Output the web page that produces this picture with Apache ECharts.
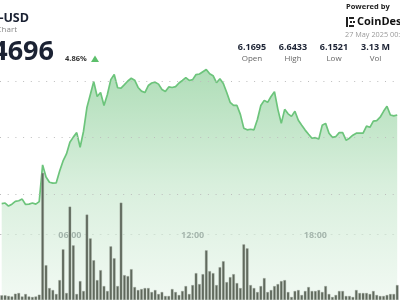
<!DOCTYPE html>
<html><head><meta charset="utf-8">
<script src="https://cdn.jsdelivr.net/npm/echarts@6/dist/echarts.min.js"></script>
<style>html,body{margin:0;padding:0;background:#fff;overflow:hidden}#c{width:400px;height:300px}</style>
</head><body><div id="c"></div>
<script>
// 10-minute buckets, first visible bucket 02:40
const startMinutes = 160;
const bucketCount = 117;
const times = [];
for (let k = 0; k < bucketCount; k++) {
  const m = startMinutes + k * 10;
  times.push(String(Math.floor(m / 60) % 24).padStart(2, '0') + ':' + String(m % 60).padStart(2, '0'));
}
const prices = [6.165,6.167,6.156,6.163,6.173,6.175,6.181,6.162,6.163,6.167,6.163,6.172,
6.303,6.260,6.241,6.238,6.239,6.281,6.317,6.342,6.384,6.402,6.418,6.366,6.423,6.508,6.554,6.600,6.547,6.561,
6.515,6.554,6.607,6.625,6.578,6.577,6.589,6.602,6.612,6.605,6.579,6.566,6.561,6.586,6.595,6.598,6.591,6.572,6.565,6.581,
6.579,6.582,6.595,6.604,6.614,6.604,6.607,6.625,6.627,6.635,6.643,6.628,6.621,6.596,6.610,6.593,6.561,6.526,6.515,6.515,
6.483,6.434,6.428,6.430,6.428,6.465,6.515,6.533,6.526,6.547,6.564,6.501,6.451,6.501,6.485,6.476,6.494,6.462,6.444,6.427,
6.412,6.398,6.400,6.395,6.444,6.451,6.416,6.401,6.404,6.418,6.418,6.391,6.398,6.409,6.416,6.416,6.416,6.441,6.437,6.459,
6.461,6.473,6.494,6.512,6.481,6.478,6.481];
const volumesK = [4.7,4.7,4,3.5,6.3,7,3.5,6,3.5,3,3.5,5.3,
128,35,12,10,6,20,51,7,94,55,6,19,9,86,62,40,20,30,14,9,54,42,14,98,25,24,31,13,10,11,12,12,8,10,6,8,4,4,11,8,5,9,14,6,15,27,16,
26,50,29,27,15,33,39,18,23,26,17,12,56,52,15,12,8,14,22,8,10,14,16,19,20,8,3,9,10,5,9,13,9,9,10,8,14,6,3,5,9,9,4,4,3,10,7,7,7,6,9,5,4,4,5,6,6,15];
const tickLabels = ['06:00','12:00','18:00'];
const priceGridValues = [6.2, 6.4, 6.6];
const stats = [['6.1695','Open'],['6.6433','High'],['6.1521','Low'],['3.13 M','Vol']];
const headline = { pair: 'UNI-USD', sub: 'Uniswap Chart', price: '6.4696', change: '4.86%', date: '27 May 2025 00:00' };

const chart = echarts.init(document.getElementById('c'), null, { renderer: 'canvas' });
const FONT = '"Open Sans", "Noto Sans", sans-serif';
const dotted = { type: [1, 6.7], color: '#bdbdbd', width: 1 };
const statX = [252, 293, 334, 375.5];

const graphics = [
  { type: 'text', x: 29, y: 18, style: { text: headline.pair, align: 'right', verticalAlign: 'middle', font: 'bold 12.5px ' + FONT, fill: '#1b2233' } },
  { type: 'text', x: 17, y: 29.5, style: { text: headline.sub, align: 'right', verticalAlign: 'middle', font: '8px ' + FONT, fill: '#888' } },
  { type: 'text', x: 54, y: 52, style: { text: headline.price, align: 'right', verticalAlign: 'middle', font: 'bold 27px ' + FONT, fill: '#1b2233' } },
  { type: 'text', x: 65, y: 59, style: { text: headline.change, align: 'left', verticalAlign: 'middle', font: 'bold 7.5px ' + FONT, fill: '#333' } },
  { type: 'polygon', shape: { points: [[91, 62], [99, 62], [95, 55.5]] }, style: { fill: '#5cbf6b' } },
  { type: 'text', x: 346, y: 7, style: { text: 'Powered by', align: 'left', verticalAlign: 'middle', font: 'bold 7.5px ' + FONT, fill: '#222' } },
  { type: 'rect', shape: { x: 346, y: 17, width: 2, height: 10 }, style: { fill: '#222' } },
  { type: 'rect', shape: { x: 349, y: 17, width: 5, height: 2 }, style: { fill: '#222' } },
  { type: 'rect', shape: { x: 349, y: 25, width: 5, height: 2 }, style: { fill: '#222' } },
  { type: 'rect', shape: { x: 350, y: 21, width: 2, height: 2 }, style: { fill: '#222' } },
  { type: 'rect', shape: { x: 353, y: 21, width: 2, height: 2 }, style: { fill: '#222' } },
  { type: 'text', x: 357, y: 22, style: { text: 'CoinDesk', align: 'left', verticalAlign: 'middle', font: 'bold 11px ' + FONT, fill: '#111' } },
  { type: 'text', x: 345, y: 35, style: { text: headline.date, align: 'left', verticalAlign: 'middle', font: '7.3px ' + FONT, fill: '#9a9a9a' } }
];
stats.forEach((s, k) => {
  graphics.push({ type: 'text', x: statX[k], y: 47.5, style: { text: s[0], align: 'center', verticalAlign: 'middle', font: 'bold 9px ' + FONT, fill: '#1b2233' } });
  graphics.push({ type: 'text', x: statX[k], y: 58.5, style: { text: s[1], align: 'center', verticalAlign: 'middle', font: '8px ' + FONT, fill: '#666' } });
});

chart.setOption({
  animation: false,
  backgroundColor: '#ffffff',
  grid: [
    { left: -1.1, right: 1.1, top: 25.5, bottom: -2 },
    { left: -1.1, right: 1.1, top: 0, bottom: 66 }
  ],
  xAxis: [
    { type: 'category', gridIndex: 0, data: times, show: false, boundaryGap: true },
    { type: 'category', gridIndex: 1, data: times, boundaryGap: true,
      axisLine: { show: true, lineStyle: dotted },
      axisTick: { show: false },
      axisLabel: { show: true, margin: 1, verticalAlign: 'middle', color: '#2b2f3b', fontSize: 9, fontWeight: 'bold', fontFamily: FONT,
        interval: (idx, val) => tickLabels.indexOf(val) >= 0 },
      splitLine: { show: false } }
  ],
  yAxis: [
    { type: 'value', gridIndex: 0, min: 5.8212, max: 6.8, show: false, splitLine: { show: false } },
    { type: 'value', gridIndex: 0, min: 0, max: 276.5, show: false, splitLine: { show: false } },
    { type: 'value', gridIndex: 1, show: false, splitLine: { show: false } }
  ],
  graphic: graphics,
  series: [
    { type: 'line', xAxisIndex: 0, yAxisIndex: 0, data: prices, symbol: 'none', smooth: false,
      lineStyle: { color: '#6cc47b', width: 1.7 },
      areaStyle: { origin: 'start', color: new echarts.graphic.LinearGradient(0, 0, 0, 1, [
        { offset: 0, color: '#8dcf99' }, { offset: 0.5, color: '#c8e8ce' }, { offset: 1, color: '#ecf7ee' }]) },
      markLine: { silent: true, symbol: 'none', label: { show: false }, lineStyle: dotted,
        data: priceGridValues.map(v => ({ yAxis: v })) },
      z: 1 },
    { type: 'bar', xAxisIndex: 0, yAxisIndex: 1, data: volumesK, barWidth: 2.6,
      itemStyle: { color: '#5e675b', borderColor: '#9aa197', borderWidth: 0.4 }, z: 3 }
  ]
});
</script></body></html>
